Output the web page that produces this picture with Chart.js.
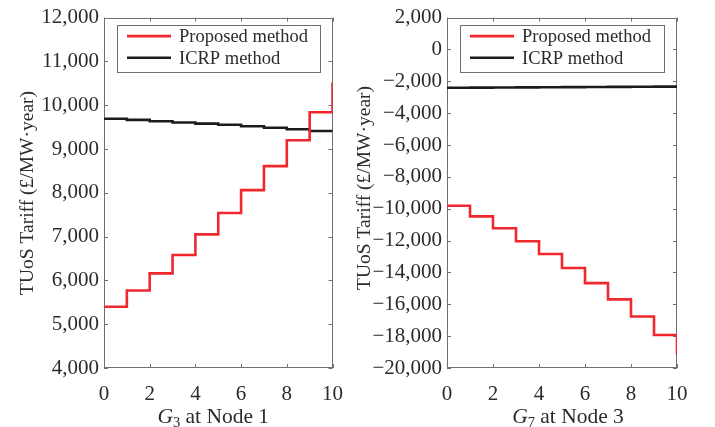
<!DOCTYPE html>
<html>
<head>
<meta charset="utf-8">
<script src="https://cdn.jsdelivr.net/npm/chart.js@4/dist/chart.umd.min.js"></script>
<style>
  html, body { margin: 0; padding: 0; background: #fff; }
  body { width: 715px; height: 427px; position: relative; overflow: hidden; }
  .panel { position: absolute; top: 0; }
  #leftPanel { left: 0; width: 357px; height: 427px; }
  #rightPanel { left: 340px; width: 375px; height: 427px; }
</style>
</head>
<body>
<div class="panel" id="leftPanel"><canvas id="chartNode1" width="357" height="427"></canvas></div>
<div class="panel" id="rightPanel"><canvas id="chartNode3" width="375" height="427"></canvas></div>
<script>
// Generator output steps (MW)
const generatorSteps = [0, 1, 2, 3, 4, 5, 6, 7, 8, 9, 10];

// G3 at Node 1: TUoS tariff (£/MW·year)
const node1Proposed = [5400, 5770, 6160, 6580, 7050, 7540, 8060, 8610, 9200, 9840, 10520];
const node1Icrp     = [9690, 9665, 9635, 9605, 9580, 9555, 9520, 9485, 9450, 9410, 9390];

// G7 at Node 3: TUoS tariff (£/MW·year)
const node3Proposed = [-9810, -10480, -11230, -12040, -12840, -13720, -14670, -15690, -16770, -17930, -19130];
const node3Icrp     = [-2400, -2395, -2385, -2380, -2370, -2365, -2355, -2350, -2340, -2335, -2330];

// Axis ranges and tick spacing
const node1YRange = [4000, 12000, 1000];
const node3YRange = [-20000, 2000, 2000];
const xRange = [0, 10, 2];

// Text
const seriesNames = ['Proposed method', 'ICRP method'];
const yAxisTitle = 'TUoS Tariff (£/MW·year)';
const node1XTitle = ['G', '3', ' at Node 1'];
const node3XTitle = ['G', '7', ' at Node 3'];

const FONT = "'Liberation Serif', 'Times New Roman', serif";
const TEXT_COLOR = '#2b2b2b';
const FRAME_COLOR = '#707070';
const RED = 'rgb(240, 40, 46)';
const BLACK = '#1c1c1c';

Chart.defaults.font.family = FONT;
Chart.defaults.color = TEXT_COLOR;

function formatTick(v) {
  return Number(v).toLocaleString('en-US').replace('-', '\u2212');
}

// Box frame with inward tick marks on all four sides
const framePlugin = {
  id: 'boxFrame',
  beforeDatasetsDraw(chart) {
    const { ctx, chartArea: a, scales: { x, y } } = chart;
    ctx.save();
    ctx.strokeStyle = FRAME_COLOR;
    ctx.lineWidth = 1;
    ctx.strokeRect(Math.round(a.left) + 0.5, Math.round(a.top) + 0.5,
                   Math.round(a.width) - 1, Math.round(a.height) - 1);
    ctx.beginPath();
    const len = 4;
    y.ticks.forEach(t => {
      const py = Math.round(y.getPixelForValue(t.value)) + 0.5;
      ctx.moveTo(a.left, py); ctx.lineTo(a.left + len, py);
      ctx.moveTo(a.right, py); ctx.lineTo(a.right - len, py);
    });
    x.ticks.forEach(t => {
      const px = Math.round(x.getPixelForValue(t.value)) + 0.5;
      ctx.moveTo(px, a.bottom); ctx.lineTo(px, a.bottom - len);
      ctx.moveTo(px, a.top); ctx.lineTo(px, a.top + len);
    });
    ctx.stroke();
    ctx.restore();
  }
};

// Legend box inside the plot, plus the axis titles
const annotatePlugin = {
  id: 'annotate',
  afterDatasetsDraw(chart, args, opts) {
    const { ctx, chartArea: a } = chart;
    ctx.save();

    // legend
    const bx = a.left + 13, bw = a.width - 26, by = a.top + 7, bh = 47;
    ctx.fillStyle = '#fff';
    ctx.fillRect(bx, by, bw, bh);
    ctx.strokeStyle = FRAME_COLOR;
    ctx.lineWidth = 1;
    ctx.strokeRect(Math.round(bx) + 0.5, Math.round(by) + 0.5, Math.round(bw), Math.round(bh));
    ctx.font = `18.5px ${FONT}`;
    ctx.textBaseline = 'alphabetic';
    ctx.textAlign = 'left';
    chart.data.datasets.forEach((ds, i) => {
      const ly = by + 11.5 + i * 21.7;
      ctx.strokeStyle = ds.borderColor;
      ctx.lineWidth = 2.6;
      ctx.beginPath();
      ctx.moveTo(bx + 10, ly);
      ctx.lineTo(bx + 54, ly);
      ctx.stroke();
      ctx.fillStyle = TEXT_COLOR;
      ctx.fillText(ds.label, bx + 62, ly + 6);
    });

    // y title
    ctx.fillStyle = TEXT_COLOR;
    ctx.font = `19.5px ${FONT}`;
    ctx.save();
    ctx.translate(opts.yTitleX, opts.yTitleY);
    ctx.rotate(-Math.PI / 2);
    ctx.textAlign = 'center';
    ctx.textBaseline = 'alphabetic';
    ctx.fillText(yAxisTitle, 0, 0);
    ctx.restore();

    // x title: italic symbol, subscript index, plain remainder
    const [sym, idx, rest] = opts.xTitle;
    const fMain = `21.5px ${FONT}`, fItal = `italic 21.5px ${FONT}`, fSub = `14.5px ${FONT}`;
    ctx.font = fItal; const w1 = ctx.measureText(sym).width;
    ctx.font = fSub; const w2 = ctx.measureText(idx).width;
    ctx.font = fMain; const w3 = ctx.measureText(rest).width;
    let tx = (a.left + a.right) / 2 + opts.xTitleShift - (w1 + w2 + w3) / 2;
    const ty = 423;
    ctx.textAlign = 'left';
    ctx.font = fItal; ctx.fillText(sym, tx, ty); tx += w1;
    ctx.font = fSub; ctx.fillText(idx, tx, ty + 4); tx += w2;
    ctx.font = fMain; ctx.fillText(rest, tx, ty);
    ctx.restore();
  }
};

function makeChart(canvasId, proposed, icrp, yRange, yAxisWidth, padRight, annotate) {
  const toPoints = arr => generatorSteps.map((g, i) => ({ x: g, y: arr[i] }));
  const tickFont = { family: FONT, size: 21 };
  return new Chart(document.getElementById(canvasId), {
    type: 'line',
    data: {
      datasets: [
        { label: seriesNames[0], data: toPoints(proposed), borderColor: RED,
          borderWidth: 2.6, stepped: 'before', pointRadius: 0, order: 1 },
        { label: seriesNames[1], data: toPoints(icrp), borderColor: BLACK,
          borderWidth: 2.6, stepped: 'before', pointRadius: 0, order: 2 }
      ]
    },
    options: {
      responsive: false,
      animation: false,
      layout: { padding: { left: 0, top: 15, right: padRight, bottom: 0 } },
      plugins: {
        legend: { display: false },
        tooltip: { enabled: false },
        annotate: annotate
      },
      scales: {
        x: {
          type: 'linear', min: xRange[0], max: xRange[1],
          grid: { display: false, drawTicks: false },
          border: { display: false },
          ticks: { stepSize: xRange[2], padding: 14, color: TEXT_COLOR,
                   font: tickFont, maxRotation: 0 },
          afterFit: s => { s.height = 59; }
        },
        y: {
          min: yRange[0], max: yRange[1],
          grid: { display: false, drawTicks: false },
          border: { display: false },
          ticks: { stepSize: yRange[2], padding: 5, color: TEXT_COLOR,
                   font: tickFont, callback: formatTick },
          afterFit: s => { s.width = yAxisWidth; }
        }
      }
    },
    plugins: [framePlugin, annotatePlugin]
  });
}

makeChart('chartNode1', node1Proposed, node1Icrp, node1YRange, 104, 23,
          { xTitle: node1XTitle, xTitleShift: -5, yTitleX: 33, yTitleY: 193 });
makeChart('chartNode3', node3Proposed, node3Icrp, node3YRange, 107, 38,
          { xTitle: node3XTitle, xTitleShift: 6, yTitleX: 30, yTitleY: 188 });
</script>
</body>
</html>
